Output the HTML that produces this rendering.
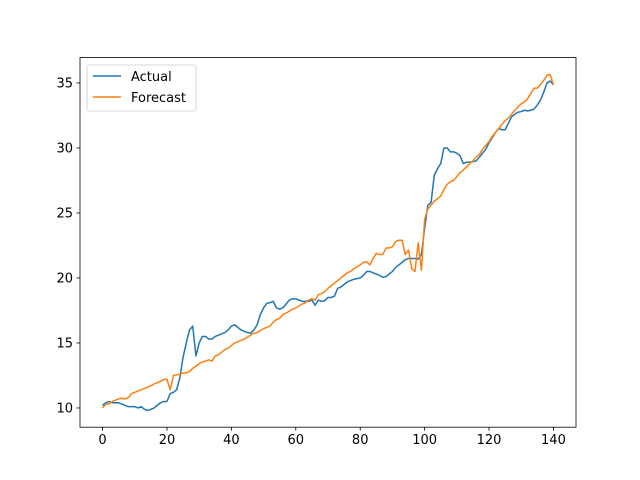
<!DOCTYPE html>
<html><head><meta charset="utf-8"><style>
html,body{margin:0;padding:0;background:#fff;}
svg{display:block;font-family:"DejaVu Sans","Liberation Sans",sans-serif;}
</style></head><body>
<svg id="chart" width="640" height="480" viewBox="0 0 640 480">
<rect width="640" height="480" fill="#fff"/>
<g id="plot"></g>
<rect x="80" y="57.6" width="496" height="369.6" fill="none" stroke="#000" stroke-width="0.8"/>
<g id="xticks"></g>
<g id="yticks"></g>
<g>
<rect x="87" y="65" width="109" height="46" rx="2" fill="#fff" fill-opacity="0.8" stroke="#ccc" stroke-width="0.8"/>
<g>
<line x1="93" y1="76" x2="121" y2="76" stroke="#1f77b4" stroke-width="1.5"/>
<text x="131" y="81" font-size="13" fill="#000">Actual</text></g>
<g>
<line x1="93" y1="97" x2="121" y2="97" stroke="#ff7f0e" stroke-width="1.5"/>
<text x="131" y="102" font-size="13" fill="#000">Forecast</text></g>
</g>
</svg>
<script>
const actual=[10.2,10.4,10.5,10.4,10.4,10.4,10.3,10.2,10.1,10.1,10.1,10.0,10.1,9.9,9.8,9.9,10.0,10.2,10.4,10.5,10.5,11.1,11.2,11.4,12.3,13.9,15.0,16.0,16.3,14.0,15.0,15.5,15.5,15.3,15.3,15.5,15.6,15.7,15.8,16.0,16.3,16.4,16.2,16.0,15.9,15.8,15.75,16.0,16.4,17.2,17.7,18.05,18.1,18.2,17.7,17.6,17.7,18.0,18.3,18.4,18.4,18.3,18.2,18.2,18.2,18.3,17.9,18.3,18.2,18.25,18.5,18.5,18.6,19.2,19.3,19.5,19.7,19.8,19.9,19.95,20.0,20.2,20.5,20.5,20.4,20.3,20.2,20.05,20.1,20.3,20.5,20.8,21.0,21.2,21.4,21.5,21.5,21.5,21.45,21.8,23.8,25.6,25.8,27.9,28.4,28.8,30.0,30.0,29.7,29.7,29.6,29.4,28.8,28.9,28.9,28.95,29.0,29.3,29.6,29.9,30.4,30.8,31.2,31.5,31.4,31.4,31.9,32.4,32.6,32.75,32.8,32.9,32.85,32.9,33.0,33.3,33.7,34.3,35.0,35.15,34.85];
const forecast=[10.0,10.3,10.3,10.5,10.6,10.7,10.75,10.7,10.8,11.1,11.2,11.3,11.4,11.5,11.6,11.7,11.85,11.95,12.05,12.2,12.2,11.4,12.5,12.55,12.6,12.7,12.7,12.8,13.05,13.2,13.4,13.55,13.6,13.7,13.6,14.0,14.1,14.3,14.5,14.6,14.8,15.0,15.1,15.2,15.3,15.45,15.6,15.75,15.8,15.95,16.1,16.2,16.3,16.6,16.8,16.9,17.2,17.3,17.45,17.6,17.7,17.85,18.0,18.1,18.3,18.4,18.3,18.7,18.8,18.95,19.2,19.4,19.6,19.8,20.0,20.2,20.4,20.5,20.7,20.85,21.0,21.2,21.25,21.0,21.5,21.9,21.8,21.8,22.3,22.3,22.4,22.8,22.9,22.9,21.8,22.15,20.7,20.5,22.7,20.6,24.5,25.3,25.6,25.9,26.1,26.3,26.8,27.2,27.4,27.5,27.8,28.1,28.3,28.55,28.8,29.0,29.3,29.5,29.9,30.2,30.5,30.9,31.2,31.5,31.8,32.1,32.3,32.6,32.9,33.15,33.4,33.55,33.8,34.2,34.6,34.6,34.9,35.2,35.6,35.65,34.85];
const xTicks=[0,20,40,60,80,100,120,140];
const yTicks=[10,15,20,25,30,35];
const NS="http://www.w3.org/2000/svg";
const X0=80,X1=576,Y0=57.6,Y1=427.2;
const xmin=-7,xmax=147,ymin=8.52,ymax=36.95;
function sx(v){return X0+(v-xmin)/(xmax-xmin)*(X1-X0);}
function sy(v){return Y1-(v-ymin)/(ymax-ymin)*(Y1-Y0);}
const plot=document.getElementById('plot');
function line(data,color,name){
  const p=document.createElementNS(NS,'path');
  p.setAttribute('d',data.map((v,i)=>(i?'L':'M')+sx(i).toFixed(2)+' '+sy(v).toFixed(2)).join(''));
  p.setAttribute('fill','none');p.setAttribute('stroke',color);p.setAttribute('stroke-width','1.5');
  p.setAttribute('stroke-linejoin','round');
  
  
  plot.appendChild(p);
}
line(actual,'#1f77b4','actual-line');
line(forecast,'#ff7f0e','forecast-line');
const xg=document.getElementById('xticks');
xTicks.forEach(t=>{
  const x=sx(t);
  const l=document.createElementNS(NS,'line');
  l.setAttribute('x1',x);l.setAttribute('x2',x);l.setAttribute('y1',Y1);l.setAttribute('y2',Y1+3.5);
  l.setAttribute('stroke','#000');l.setAttribute('stroke-width','0.8');
  
  
  xg.appendChild(l);
  const tx=document.createElementNS(NS,'text');
  tx.setAttribute('x',x);tx.setAttribute('y',Y1+17);tx.setAttribute('text-anchor','middle');tx.setAttribute('font-size','13');
  tx.textContent=t;
  
  
  xg.appendChild(tx);
});
const yg=document.getElementById('yticks');
yTicks.forEach(t=>{
  const y=sy(t);
  const l=document.createElementNS(NS,'line');
  l.setAttribute('x1',X0-3.5);l.setAttribute('x2',X0);l.setAttribute('y1',y);l.setAttribute('y2',y);
  l.setAttribute('stroke','#000');l.setAttribute('stroke-width','0.8');
  
  
  yg.appendChild(l);
  const tx=document.createElementNS(NS,'text');
  tx.setAttribute('x',X0-7);tx.setAttribute('y',y+4.5);tx.setAttribute('text-anchor','end');tx.setAttribute('font-size','13');
  tx.textContent=t;
  
  
  yg.appendChild(tx);
});
</script>
</body></html>
